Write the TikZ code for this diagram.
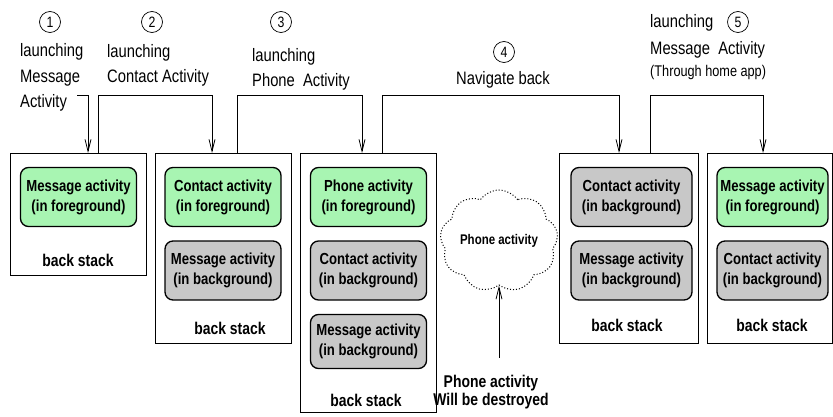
\documentclass[tikz,border=0pt]{standalone}
\usepackage{fontspec}
\setmainfont{Liberation Sans}[FakeStretch=0.82]
\usetikzlibrary{arrows.meta,shapes.symbols,calc}
\definecolor{fggreen}{RGB}{168,245,178}
\definecolor{bggray}{RGB}{200,200,200}

\begin{document}
\begin{tikzpicture}[x=1pt,y=-1pt,
  stackbox/.style={draw,line width=0.9pt,anchor=north west,inner sep=0},
  act/.style={draw,line width=1.3pt,rounded corners=8pt,minimum width=116pt,
    minimum height=59pt,align=center,inner sep=0,
    font=\fontsize{16}{20}\selectfont\bfseries},
  fg/.style={act,fill=fggreen},
  bg/.style={act,fill=bggray},
  stacklbl/.style={font=\fontsize{17}{20}\selectfont\bfseries,inner sep=0},
  lbl/.style={font=\fontsize{18}{25.5}\selectfont,align=left,inner sep=0,anchor=base west},
  num/.style={draw,circle,line width=0.7pt,minimum size=21pt,inner sep=0,
    font=\fontsize{15}{15}\selectfont},
  flow/.style={line width=0.9pt,-{Straight Barb[length=12pt,width=6pt,line width=0.8pt]}}
]
\useasboundingbox (0,0) rectangle (833,417);

% back stacks
\node[stackbox,minimum width=136pt,minimum height=122pt] (b1) at (10,153) {};
\node[stackbox,minimum width=136pt,minimum height=190pt] (b2) at (155,153) {};
\node[stackbox,minimum width=136pt,minimum height=259pt] (b3) at (300,153) {};
\node[stackbox,minimum width=139pt,minimum height=190pt] (b4) at (559,153) {};
\node[stackbox,minimum width=125pt,minimum height=190pt] (b5) at (707,153) {};

% stack 1
\node[fg] (a11) at (78.5,197) {Message activity\\(in foreground)};
\node[stacklbl] (s1) at (78,260) {back stack};
% stack 2
\node[fg] (a21) at (223,197) {Contact activity\\(in foreground)};
\node[bg] (a22) at (223,270.5) {Message activity\\(in background)};
\node[stacklbl] (s2) at (230,328.5) {back stack};
% stack 3
\node[fg] (a31) at (368.5,197) {Phone activity\\(in foreground)};
\node[bg] (a32) at (368.5,270.5) {Contact activity\\(in background)};
\node[bg,minimum height=54pt] (a33) at (368.5,341.5) {Message activity\\(in background)};
\node[stacklbl] (s3) at (366,400) {back stack};
% stack 4
\node[bg,minimum width=121pt] (a41) at (631.5,197) {Contact activity\\(in background)};
\node[bg,minimum width=121pt] (a42) at (631.5,270.5) {Message activity\\(in background)};
\node[stacklbl] (s4) at (627,325) {back stack};
% stack 5
\node[fg,minimum width=111pt] (a51) at (772.5,197) {Message activity\\(in foreground)};
\node[bg,minimum width=111pt] (a52) at (772.5,270.5) {Contact activity\\(in background)};
\node[stacklbl] (s5) at (772,325) {back stack};

% destroyed activity
\node[cloud,draw,cloud puffs=9,cloud puff arc=110,cloud ignores aspect,minimum width=118pt,
  minimum height=102pt,inner sep=0,line width=1pt,dash pattern=on 1pt off 2pt,
  fill=white,font=\fontsize{14}{14}\selectfont\bfseries] (cl) at (499,241) {Phone activity};
\node[align=center,inner sep=0,font=\fontsize{17}{18}\selectfont\bfseries] (dl) at (491,392)
  {Phone activity\\Will be destroyed};
\coordinate (dtop) at ([yshift=17pt]dl.north);
\draw[flow] (dtop -| cl.south) -- (cl.south);

% step labels (anchored at the baseline of their last line)
\node[num] (n1) at (50,22) {1};
\node[lbl] (t1) at (20,108) {launching\\Message\\Activity};
\node[num] (n2) at (152,22) {2};
\node[lbl] (t2) at (107,83) {launching\\Contact Activity};
\node[num] (n3) at (281,22) {3};
\node[lbl] (t3) at (252,87) {launching\\Phone~ Activity};
\node[num] (n4) at (504,52) {4};
\node[inner sep=0,anchor=base,font=\fontsize{18}{20}\selectfont] (t4) at (503,85) {Navigate back};
\node[lbl,font=\fontsize{18}{27}\selectfont] (t5) at (650,55) {launching\\Message~ Activity};
\node[num] (n5) at (738,22) {5};
\node[inner sep=0,anchor=base west,font=\fontsize{15.5}{17}\selectfont] (t5b) at (650,77) {(Through home app)};

% transitions between stacks
\coordinate (bar) at (0,95);
\coordinate (o0) at (77,95);
\coordinate (i1) at ($(b1.north west)+(78,0)$);
\coordinate (o1) at ($(b1.north west)+(88,0)$);
\coordinate (i2) at ($(b2.north west)+(57,0)$);
\coordinate (o2) at ($(b2.north west)+(82,0)$);
\coordinate (i3) at ($(b3.north west)+(62,0)$);
\coordinate (o3) at ($(b3.north west)+(82,0)$);
\coordinate (i4) at ($(b4.north west)+(60,0)$);
\coordinate (o4) at ($(b4.north west)+(91,0)$);
\coordinate (i5) at ($(b5.north west)+(56,0)$);
\draw[flow] (o0) -| (i1);
\draw[flow] (o1) |- (i2 |- bar) -- (i2);
\draw[flow] (o2) |- (i3 |- bar) -- (i3);
\draw[flow] (o3) |- (i4 |- bar) -- (i4);
\draw[flow] (o4) |- (i5 |- bar) -- (i5);
\end{tikzpicture}
\end{document}
